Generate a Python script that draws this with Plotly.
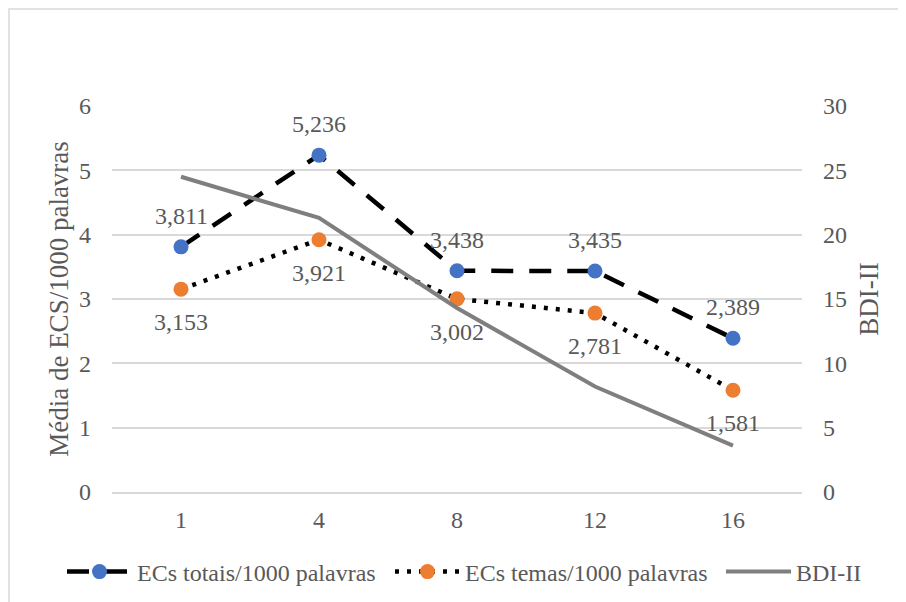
import plotly.graph_objects as go

categories = ["1", "4", "8", "12", "16"]
ecs_totais = [3.811, 5.236, 3.438, 3.435, 2.389]
ecs_temas = [3.153, 3.921, 3.002, 2.781, 1.581]
bdi = [24.5, 21.3, 14.3, 8.2, 3.6]

FONT = "Liberation Serif"
TXT = "#595959"
GRID = "#d9d9d9"
FS = 24
TFS = 27

def fmt(v):
    return f"{v:.3f}".replace(".", ",")

fig = go.Figure()
fig.add_trace(go.Scatter(
    x=categories, y=ecs_totais, name="ECs totais/1000 palavras",
    mode="lines+markers", legend="legend",
    line=dict(color="black", width=4.5, dash="22px,16px"),
    marker=dict(color="#4472c4", size=15),
))
fig.add_trace(go.Scatter(
    x=categories, y=ecs_temas, name="ECs temas/1000 palavras",
    mode="lines+markers", legend="legend2",
    line=dict(color="black", width=4.5, dash="4px,8px"),
    marker=dict(color="#ed7d31", size=15),
))
fig.add_trace(go.Scatter(
    x=categories, y=bdi, name="BDI-II", yaxis="y2",
    mode="lines", legend="legend3",
    line=dict(color="#7f7f7f", width=4),
))

annotations = []
for i, v in enumerate(ecs_totais):
    annotations.append(dict(x=i, y=v, xref="x", yref="y", text=fmt(v),
                            showarrow=False, yshift=31,
                            font=dict(family=FONT, size=FS, color=TXT)))
for i, v in enumerate(ecs_temas):
    annotations.append(dict(x=i, y=v, xref="x", yref="y", text=fmt(v),
                            showarrow=False, yshift=-33,
                            font=dict(family=FONT, size=FS, color=TXT)))

def leg(xpix):
    return dict(orientation="h", xref="container", yref="container",
                x=xpix / 906, y=1 - 564 / 602, xanchor="left", yanchor="middle",
                bgcolor="rgba(0,0,0,0)", itemwidth=65,
                font=dict(family=FONT, size=FS, color=TXT))

fig.update_layout(
    width=906, height=602,
    margin=dict(l=104, r=112, t=98, b=118, autoexpand=False),
    paper_bgcolor="white", plot_bgcolor="white",
    font=dict(family=FONT, size=FS, color=TXT),
    showlegend=True,
    legend=leg(54),
    legend2=leg(382),
    legend3=leg(713),
    xaxis=dict(type="category", range=[-0.5, 4.5], showgrid=False,
               zeroline=False, showline=True, linecolor=GRID, linewidth=1.5,
               ticks="", ticklabelstandoff=5, automargin=False,
               tickfont=dict(family=FONT, size=FS, color=TXT)),
    yaxis=dict(range=[0, 6], dtick=1, showgrid=True, gridcolor=GRID,
               gridwidth=1.5, zeroline=False, showline=False,
               ticklabelstandoff=20, automargin=False,
               tickfont=dict(family=FONT, size=FS, color=TXT),
               title=dict(text="Média de ECS/1000 palavras", standoff=2,
                          font=dict(family=FONT, size=TFS, color=TXT))),
    yaxis2=dict(range=[0, 30], dtick=5, overlaying="y", side="right",
                showgrid=False, zeroline=False, showline=False,
                ticklabelstandoff=20, automargin=False,
                tickfont=dict(family=FONT, size=FS, color=TXT),
                title=dict(text="BDI-II", standoff=13,
                           font=dict(family=FONT, size=TFS, color=TXT))),
    annotations=annotations,
    shapes=[dict(type="rect", xref="paper", yref="paper",
                 x0=-0.1493, x1=1.2, y0=-0.4, y1=1.2513,
                 line=dict(color=GRID, width=1.5), layer="below")],
)

fig.write_html("out.html")
